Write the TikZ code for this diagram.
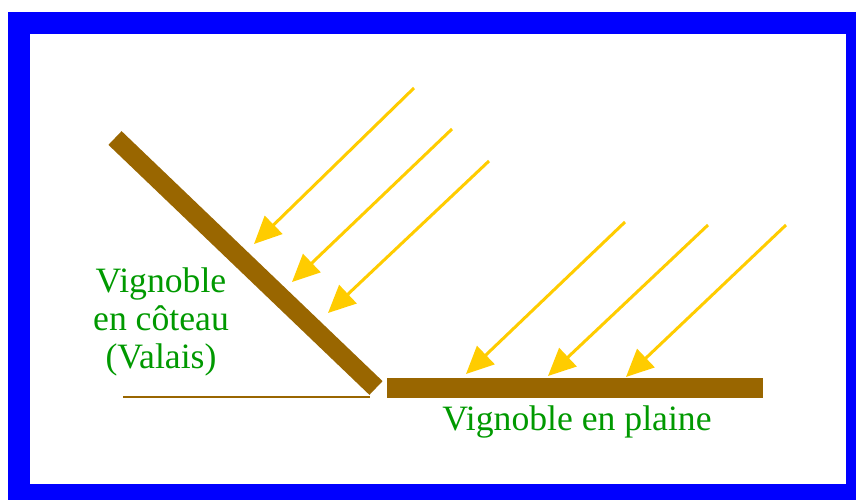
\documentclass[tikz,border=0pt]{standalone}
\usepackage{fontspec}
\setmainfont{Liberation Serif}
\usetikzlibrary{arrows.meta}
\definecolor{vgblue}{HTML}{0000FF}
\definecolor{vgbrown}{HTML}{996600}
\definecolor{vgsun}{HTML}{FFCC00}
\definecolor{vggreen}{HTML}{009900}

\begin{document}
\begin{tikzpicture}[
  x=0.02cm, y=-0.02cm,
  every node/.style={font=\fontsize{20.3}{21.6}\selectfont, text=vggreen, inner sep=0pt},
  slopebar/.style={draw=vgbrown, line width=0.38cm},
  flatbar/.style={draw=vgbrown, line width=0.4cm},
  ray/.style={draw=vgsun, line width=0.06cm, -{Triangle[length=0.55cm, width=0.5cm]}},
]
\useasboundingbox (0,0) rectangle (856,500);
\clip (0,0) rectangle (856,500);
% frame
\draw[draw=vgblue, line width=0.44cm] (19,23) rectangle (857,495);

% vineyards
\coordinate (slopetop) at (115,138);
\coordinate (slopefoot) at (376,388);
\coordinate (plainleft) at (387,388);
\coordinate (plainright) at (763,388);
\coordinate (groundleft) at (123,397);
\coordinate (groundright) at (370,397);
\draw[slopebar] (slopetop) -- (slopefoot);
\draw[flatbar] (plainleft) -- (plainright);
\draw[draw=vgbrown, line width=0.04cm] (groundleft) -- (groundright);

% sun rays
\foreach \i/\sx/\sy/\ex/\ey in {1/414/88/254/244, 2/452/129/292/282, 3/489/161/328/313,
    4/625/222/466/374, 5/708/225/548/376, 6/786/225/626/377} {
  \coordinate (raystart\i) at (\sx,\sy);
  \coordinate (rayend\i) at (\ex,\ey);
  \draw[ray] (raystart\i) -- (rayend\i);
}

% labels
\node[align=center] (coteau) at (161,322) {Vignoble\\en côteau\\(Valais)};
\node[anchor=base] (plaine) at (577,430) {Vignoble en plaine};
\end{tikzpicture}
\end{document}
